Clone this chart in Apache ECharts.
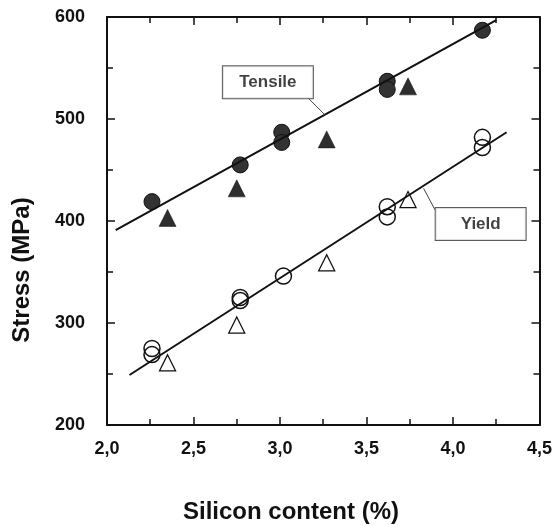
<!DOCTYPE html>
<html>
<head>
<meta charset="utf-8">
<script src="https://cdn.jsdelivr.net/npm/echarts@6/dist/echarts.min.js"></script>
<style>
html,body{margin:0;padding:0;background:#fff;}
#chart{width:555px;height:525px;}
</style>
</head>
<body>
<div id="chart"></div>
<script>
// ---- data ----
var tensileCircX = [2.26, 2.77, 3.01, 3.01, 3.62, 3.62, 4.17];
var tensileCircY = [419, 455, 487, 477, 537, 529, 587];
var tensileTriX = [2.35, 2.75, 3.27, 3.74];
var tensileTriY = [403, 432, 480, 532];
var yieldCircX = [2.26, 2.26, 2.77, 2.77, 3.02, 3.62, 3.62, 4.17, 4.17];
var yieldCircY = [275, 269, 325, 322, 346, 414, 404, 482, 472];
var yieldTriX = [2.35, 2.75, 3.27, 3.74];
var yieldTriY = [261, 298, 359, 421];
var tensileFitX = [2.05, 4.25];
var tensileFitY = [391, 597];
var yieldFitX = [2.13, 4.31];
var yieldFitY = [249, 487];
var tensileLeaderX = [3.166, 3.26];
var tensileLeaderY = [520, 504];
var yieldLeaderX = [3.896, 3.83];
var yieldLeaderY = [411, 432];
var labelNames = ['Tensile', 'Yield'];
var labelX = [2.93, 4.16];
var labelY = [536, 397];
var xTitle = 'Silicon content (%)';
var yTitle = 'Stress (MPa)';

function zip(xs, ys) { return xs.map(function (x, i) { return [x, ys[i]]; }); }

var FONT = 'Liberation Sans, Arial, sans-serif';
var chart = echarts.init(document.getElementById('chart'), null, {renderer: 'canvas'});

var axisCommon = {
  axisLine: {show: true, onZero: false, lineStyle: {color: '#111', width: 2}},
  axisTick: {show: true, inside: true, length: 8, lineStyle: {color: '#111', width: 1.5}},
  minorTick: {show: true, splitNumber: 2, length: 6, lineStyle: {color: '#111', width: 1.5}},
  splitLine: {show: false},
  minorSplitLine: {show: false}
};

var option = {
  backgroundColor: '#fff',
  animation: false,
  grid: {left: 107, right: 9, top: 17, bottom: 100, containLabel: false},
  xAxis: [
    Object.assign({
      type: 'value', min: 2.0, max: 4.5, interval: 0.5, position: 'bottom',
      axisLabel: {show: true, margin: 15, color: '#111', fontSize: 18, fontWeight: 'bold', fontFamily: FONT,
        formatter: function (v) { return v.toFixed(1).replace('.', ','); }}
    }, axisCommon),
    Object.assign({
      type: 'value', min: 2.0, max: 4.5, interval: 0.5, position: 'top',
      axisLabel: {show: false}
    }, axisCommon)
  ],
  yAxis: [
    Object.assign({
      type: 'value', min: 200, max: 600, interval: 100, position: 'left',
      axisLabel: {show: true, margin: 22, color: '#111', fontSize: 18, fontWeight: 'bold', fontFamily: FONT}
    }, axisCommon),
    Object.assign({
      type: 'value', min: 200, max: 600, interval: 100, position: 'right',
      axisLabel: {show: false}
    }, axisCommon)
  ],
  graphic: [
    {type: 'text', x: 291, y: 512, style: {text: xTitle, font: 'bold 24px ' + FONT, fill: '#111', textAlign: 'center', textVerticalAlign: 'middle'}},
    {type: 'text', x: 22, y: 270, rotation: Math.PI / 2, style: {text: yTitle, font: 'bold 24px ' + FONT, fill: '#111', textAlign: 'center', textVerticalAlign: 'middle'}}
  ],
  series: [
    {type: 'scatter', name: 'Tensile circles', data: zip(tensileCircX, tensileCircY), symbol: 'circle', symbolSize: 16,
      itemStyle: {color: '#333', borderColor: '#111', borderWidth: 1, opacity: 1}, z: 3},
    {type: 'scatter', name: 'Tensile triangles', data: zip(tensileTriX, tensileTriY), symbol: 'triangle', symbolSize: 17,
      itemStyle: {color: '#2e2e2e', borderColor: '#111', borderWidth: 0.5, opacity: 1}, z: 3},
    {type: 'scatter', name: 'Yield circles', data: zip(yieldCircX, yieldCircY), symbol: 'circle', symbolSize: 16,
      itemStyle: {color: 'rgba(255,255,255,0)', borderColor: '#111', borderWidth: 1.5, opacity: 1}, z: 3},
    {type: 'scatter', name: 'Yield triangles', data: zip(yieldTriX, yieldTriY), symbol: 'triangle', symbolSize: 16,
      itemStyle: {color: 'rgba(255,255,255,0)', borderColor: '#111', borderWidth: 1.3, opacity: 1}, z: 3},
    {type: 'line', name: 'Tensile fit', data: zip(tensileFitX, tensileFitY), symbol: 'none',
      lineStyle: {color: '#111', width: 2}, z: 4},
    {type: 'line', name: 'Yield fit', data: zip(yieldFitX, yieldFitY), symbol: 'none',
      lineStyle: {color: '#111', width: 2}, z: 4},
    {type: 'line', name: 'Tensile leader', data: zip(tensileLeaderX, tensileLeaderY), symbol: 'none',
      lineStyle: {color: '#444', width: 1}, z: 4},
    {type: 'line', name: 'Yield leader', data: zip(yieldLeaderX, yieldLeaderY), symbol: 'none',
      lineStyle: {color: '#444', width: 1}, z: 4},
    {type: 'scatter', name: 'Labels', data: labelNames.map(function (n, i) { return {name: n, value: [labelX[i], labelY[i]]}; }),
      symbolSize: 0, z: 10,
      label: {show: true, position: 'inside', formatter: '{b}', color: '#111', fontSize: 17, fontWeight: 'bold', fontFamily: FONT,
        backgroundColor: '#fff', borderColor: '#333', borderWidth: 1, padding: [6, 14], width: 62, height: 20, lineHeight: 20, align: 'center', verticalAlign: 'middle'}}
  ]
};
chart.setOption(option);
</script>
</body>
</html>
